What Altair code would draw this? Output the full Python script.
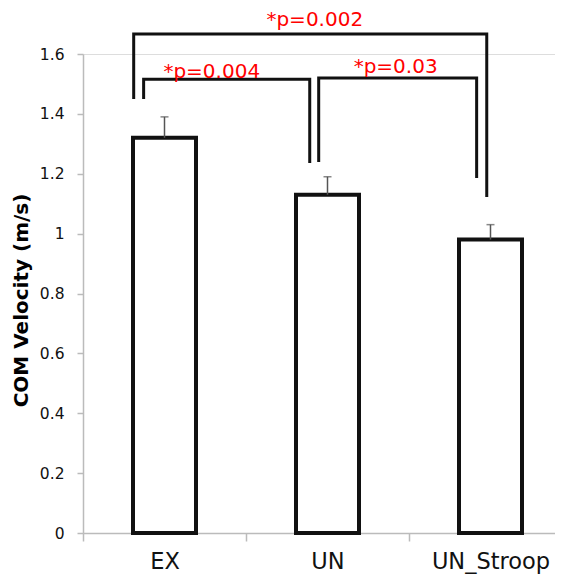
import altair as alt
import pandas as pd

# ---- data ----
categories = ["EX", "UN", "UN_Stroop"]
means = [1.32, 1.13, 0.98]
errors = [0.07, 0.06, 0.05]

# significance brackets: x in category units (0 = left edge of first category)
bracket_x1 = [0.372, 1.446, 0.311]
bracket_x2 = [1.391, 2.415, 2.477]
bracket_top = [1.516, 1.520, 1.667]
bracket_leg1 = [1.450, 1.239, 1.450]
bracket_leg2 = [1.236, 1.186, 1.122]

sig_labels = ["*p=0.004", "*p=0.03", "*p=0.002"]
sig_x = [0.790, 1.918, 1.422]
sig_y = [1.540, 1.556, 1.712]

y_ticks = [0, 0.2, 0.4, 0.6, 0.8, 1.0, 1.2, 1.4, 1.6]

# ---- tables ----
bars = pd.DataFrame({
    "cat": categories,
    "pos": [i + 0.5 for i in range(len(categories))],
    "mean": means,
    "top": [m + e for m, e in zip(means, errors)],
})

rows = []
for b in range(len(bracket_x1)):
    pts = [(bracket_x1[b], bracket_leg1[b]), (bracket_x1[b], bracket_top[b]),
           (bracket_x2[b], bracket_top[b]), (bracket_x2[b], bracket_leg2[b])]
    for k, (px, py) in enumerate(pts):
        rows.append({"b": b, "k": k, "pos": px, "val": py})
brackets = pd.DataFrame(rows)

labels = pd.DataFrame({"txt": sig_labels, "pos": sig_x, "val": sig_y})

FONT = "DejaVu Sans"
W, H = 472, 479
band_px = 163
x_scale = alt.Scale(domain=[0, W / band_px], nice=False, zero=False, padding=0)
y_scale = alt.Scale(domain=[0, 1.6], nice=False, padding=0)

label_expr = "[" + ",".join(f"'{c}'" for c in categories) + "][datum.value]"

x_axis = alt.Axis(
    values=[0, 1, 2], labelExpr=label_expr, labelOffset=band_px / 2,
    title=None, grid=False, tickSize=8, tickColor="#bbbbbb", tickWidth=1.5,
    domainColor="#bbbbbb", domainWidth=1.5, labelFont=FONT, labelFontSize=22.5,
    labelColor="#111111", labelPadding=9, labelFlush=False, labelOverlap=False,
    labelBound=False,
)
y_axis = alt.Axis(
    values=y_ticks, format=".1~f", title="COM Velocity (m/s)", grid=False,
    tickSize=6, tickColor="#bbbbbb", tickWidth=1.5, domainColor="#bbbbbb",
    domainWidth=1.5, labelFont=FONT, labelFontSize=15.5, labelColor="#111111",
    labelPadding=13, titleFont=FONT, titleFontSize=20, titleFontWeight="bold",
    titleColor="#000000", titleX=-62, titleY=246, titleBaseline="middle",
    titleAlign="center", titleAngle=270,
)


def X(field):
    return alt.X(f"{field}:Q", scale=x_scale, axis=x_axis)


def Y(field):
    return alt.Y(f"{field}:Q", scale=y_scale, axis=y_axis)


bar_layer = alt.Chart(bars).mark_bar(
    fill="white", stroke="#111111", strokeWidth=4, size=63, orient="vertical"
).encode(x=X("pos"), y=Y("mean"))

err_rule = alt.Chart(bars).mark_rule(color="#555555", strokeWidth=1.5).encode(
    x=X("pos"), y=Y("mean"), y2="top:Q"
)
err_cap = alt.Chart(bars).mark_tick(
    color="#555555", orient="horizontal", size=8, thickness=1.5
).encode(x=X("pos"), y=Y("top"))

bracket_layer = alt.Chart(brackets).mark_line(
    color="#111111", strokeWidth=3, strokeJoin="miter", strokeCap="butt"
).encode(x=X("pos"), y=Y("val"), detail="b:N", order="k:Q")

text_layer = alt.Chart(labels).mark_text(
    color="#ff0000", font=FONT, fontSize=20, align="center", baseline="middle"
).encode(x=X("pos"), y=Y("val"), text="txt:N")

chart = alt.layer(bar_layer, err_rule, err_cap, bracket_layer, text_layer).properties(
    width=W, height=H,
    autosize=alt.AutoSizeParams(type="none"),
    padding={"left": 75, "top": 46, "right": 0, "bottom": 41},
).configure_view(stroke=None).configure(background="white")

chart.save("out.html", embed_options={"renderer": "svg", "actions": False})
